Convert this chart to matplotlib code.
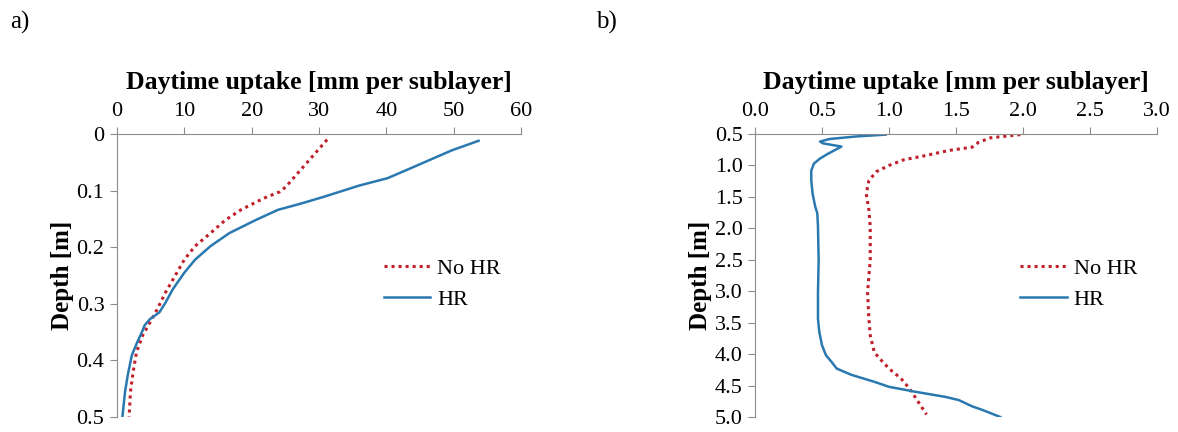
import matplotlib.pyplot as plt

plt.rcParams['font.family'] = ['Liberation Serif', 'DejaVu Serif']

# panel a) depth [m] vs uptake [mm per sublayer]
a_nohr_x = [31.2, 25.1, 24.2, 21.7, 18.4, 16.1, 13.9, 11.6, 10.0, 8.6, 7.2, 6.0, 4.9, 3.8, 2.9, 2.4, 2.0, 1.8]
a_nohr_y = [0.010, 0.093, 0.102, 0.114, 0.134, 0.152, 0.175, 0.198, 0.222, 0.251, 0.280, 0.309, 0.333, 0.356, 0.385, 0.420, 0.455, 0.500]
a_hr_x = [53.7, 49.7, 44.1, 40.2, 36.0, 30.7, 27.3, 23.9, 20.6, 16.7, 13.9, 11.6, 10.0, 8.3, 7.2, 6.3, 4.9, 4.1, 3.7, 3.0, 2.2, 1.6, 1.2, 0.8]
a_hr_y = [0.012, 0.029, 0.058, 0.078, 0.091, 0.111, 0.123, 0.134, 0.152, 0.175, 0.198, 0.222, 0.245, 0.274, 0.298, 0.315, 0.327, 0.338, 0.350, 0.368, 0.391, 0.426, 0.455, 0.500]

# panel b)
b_nohr_x = [1.98, 1.76, 1.67, 1.62, 1.45, 1.28, 1.11, 1.00, 0.905, 0.85, 0.83, 0.85, 0.86, 0.86, 0.84, 0.85, 0.86, 0.89, 0.93, 1.00, 1.09, 1.15, 1.20, 1.28]
b_nohr_y = [0.51, 0.56, 0.63, 0.71, 0.76, 0.84, 0.91, 1.00, 1.10, 1.24, 1.45, 1.71, 1.97, 2.50, 3.02, 3.44, 3.70, 3.97, 4.07, 4.23, 4.39, 4.54, 4.70, 4.96]
b_hr_x = [0.975, 0.75, 0.555, 0.485, 0.51, 0.645, 0.61, 0.54, 0.485, 0.44, 0.42, 0.42, 0.43, 0.45, 0.465, 0.47, 0.475, 0.47, 0.47, 0.48, 0.50, 0.53, 0.57, 0.61, 0.72, 0.89, 1.00, 1.20, 1.42, 1.52, 1.62, 1.70, 1.83]
b_hr_y = [0.51, 0.54, 0.58, 0.62, 0.65, 0.70, 0.74, 0.82, 0.89, 0.97, 1.08, 1.24, 1.45, 1.66, 1.76, 1.97, 2.50, 3.02, 3.44, 3.65, 3.86, 4.02, 4.12, 4.23, 4.33, 4.44, 4.52, 4.60, 4.68, 4.73, 4.83, 4.89, 5.00]

a_xticks = [0, 10, 20, 30, 40, 50, 60]
a_yticks = [0, 0.1, 0.2, 0.3, 0.4, 0.5]
b_xticks = [0.0, 0.5, 1.0, 1.5, 2.0, 2.5, 3.0]
b_yticks = [0.5, 1.0, 1.5, 2.0, 2.5, 3.0, 3.5, 4.0, 4.5, 5.0]

red = '#c0202a'
blue = '#2a78b0'
gray = '#8c8c8c'

fig = plt.figure(figsize=(11.78, 4.32), dpi=100)
ax1 = fig.add_axes([117 / 1178, 1 - 417 / 432, 404 / 1178, 283 / 432])
ax2 = fig.add_axes([755 / 1178, 1 - 417 / 432, 402 / 1178, 283 / 432])

panels = [
    (ax1, a_nohr_x, a_nohr_y, a_hr_x, a_hr_y, a_xticks, a_yticks, '{:g}', '{:g}', (0, 0.5), (0, 60)),
    (ax2, b_nohr_x, b_nohr_y, b_hr_x, b_hr_y, b_xticks, b_yticks, '{:.1f}', '{:.1f}', (0.5, 5.0), (0, 3.0)),
]

for ax, nx_, ny_, hx, hy, xt, yt, xf, yf, ylim, xlim in panels:
    ax.plot(nx_, ny_, color=red, linestyle=(0, (1, 1.3)), linewidth=2.2, label='No HR')
    ax.plot(hx, hy, color=blue, linewidth=1.8, label='HR')
    ax.set_xlim(*xlim)
    ax.set_ylim(ylim[1], ylim[0])
    ax.set_xticks(xt)
    ax.set_xticklabels([xf.format(v) for v in xt])
    ax.set_yticks(yt)
    ax.set_yticklabels([yf.format(v) for v in yt])
    ax.xaxis.tick_top()
    ax.xaxis.set_label_position('top')
    ax.spines['right'].set_visible(False)
    ax.spines['bottom'].set_visible(False)
    ax.spines['top'].set_color(gray)
    ax.spines['left'].set_color(gray)
    ax.tick_params(axis='both', colors=gray, labelcolor='black', labelsize=16, length=5, direction='out')
    ax.tick_params(axis='x', pad=4)
    ax.tick_params(axis='y', pad=4)
    ax.set_xlabel('Daytime uptake [mm per sublayer]', fontsize=18.5, fontweight='bold', labelpad=10)
    ax.set_ylabel('Depth [m]', fontsize=18, fontweight='bold', labelpad=2)
    ax.legend(loc='center left', bbox_to_anchor=(0.66, 0.47), frameon=False, fontsize=16,
              borderpad=0, borderaxespad=0, handlelength=2.1, handletextpad=0.3, labelspacing=0.45)

fig.text(10 / 1178, 1 - 22 / 432, 'a)', fontsize=18, va='center')
fig.text(596 / 1178, 1 - 22 / 432, 'b)', fontsize=18, va='center')

fig.savefig('out.png', dpi=100)
